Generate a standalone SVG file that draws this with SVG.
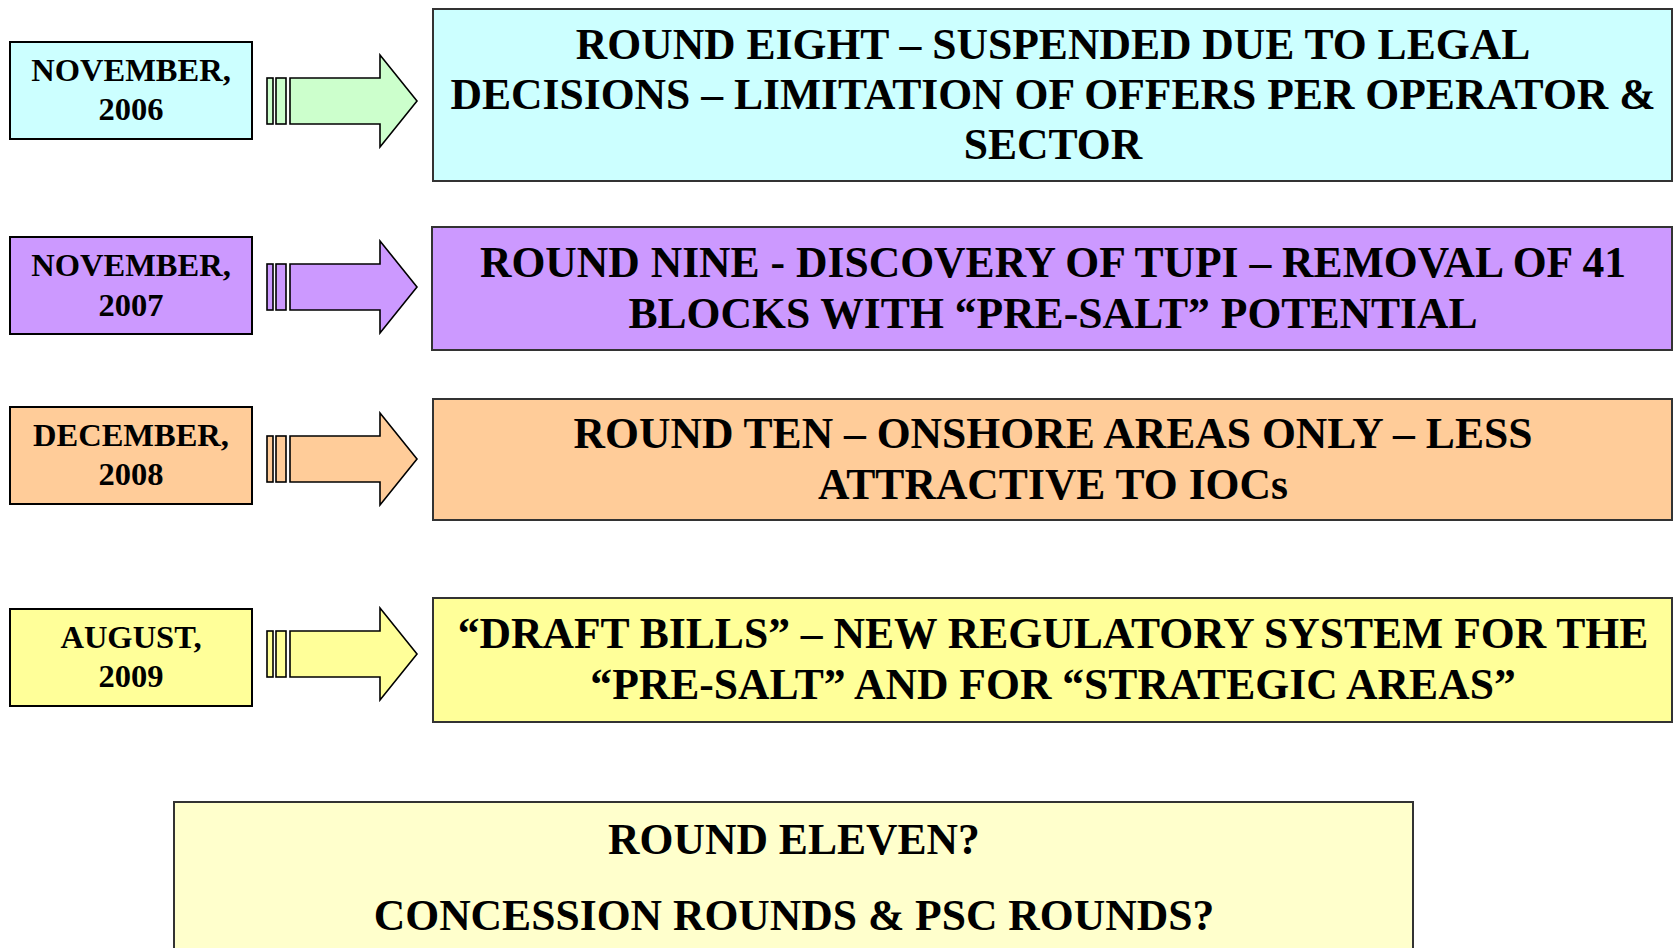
<svg xmlns="http://www.w3.org/2000/svg" width="1675" height="948" viewBox="0 0 1675 948">
<style>
.date{stroke:#000;stroke-width:2}
.big{stroke:#333;stroke-width:2}
.arr{stroke:#000;stroke-width:1.6;stroke-linejoin:miter}
text{font-family:"Liberation Serif","Times New Roman",serif;font-weight:bold;fill:#000;text-anchor:middle}
.dt{font-size:32.5px}
.bt{font-size:43.6px}
.cyan{fill:#CCFFFF}.green{fill:#CCFFCC}.purple{fill:#CC99FF}.peach{fill:#FFCC99}.yellow{fill:#FFFF99}.lyellow{fill:#FFFFCC}
</style>
<rect width="1675" height="948" fill="#fff"/>
<g id="date2006"><rect class="date cyan" x="10" y="42" width="242" height="97"/><text class="dt" x="131" y="81">NOVEMBER,</text><text class="dt" x="131" y="120">2006</text></g>
<g id="round8"><rect class="big cyan" x="433" y="9" width="1239" height="172"/><text class="bt" x="1053" y="59">ROUND EIGHT – SUSPENDED DUE TO LEGAL</text><text class="bt" x="1053" y="109">DECISIONS – LIMITATION OF OFFERS PER OPERATOR &amp;</text><text class="bt" x="1053" y="159">SECTOR</text></g>
<g id="date2007"><rect class="date purple" x="10" y="237" width="242" height="97"/><text class="dt" x="131" y="276">NOVEMBER,</text><text class="dt" x="131" y="316">2007</text></g>
<g id="round9"><rect class="big purple" x="432" y="227" width="1240" height="123"/><text class="bt" x="1053" y="277">ROUND NINE - DISCOVERY OF TUPI – REMOVAL OF 41</text><text class="bt" x="1053" y="328">BLOCKS WITH “PRE-SALT” POTENTIAL</text></g>
<g id="date2008"><rect class="date peach" x="10" y="407" width="242" height="97"/><text class="dt" x="131" y="446">DECEMBER,</text><text class="dt" x="131" y="485">2008</text></g>
<g id="round10"><rect class="big peach" x="433" y="399" width="1239" height="121"/><text class="bt" x="1053" y="448">ROUND TEN – ONSHORE AREAS ONLY – LESS</text><text class="bt" x="1053" y="499">ATTRACTIVE TO IOCs</text></g>
<g id="date2009"><rect class="date yellow" x="10" y="609" width="242" height="97"/><text class="dt" x="131" y="648">AUGUST,</text><text class="dt" x="131" y="687">2009</text></g>
<g id="drafts"><rect class="big yellow" x="433" y="598" width="1239" height="124"/><text class="bt" x="1053" y="648">“DRAFT BILLS” – NEW REGULATORY SYSTEM FOR THE</text><text class="bt" x="1053" y="699">“PRE-SALT” AND FOR “STRATEGIC AREAS”</text></g>
<g id="round11"><rect class="big lyellow" x="174" y="802" width="1239" height="160"/><text class="bt" x="794" y="854">ROUND ELEVEN?</text><text class="bt" x="794" y="930">CONCESSION ROUNDS &amp; PSC ROUNDS?</text></g>
<g id="connectors">
<g transform="translate(0,101)"><rect class="arr green" x="267" y="-23" width="6" height="46"/><rect class="arr green" x="276" y="-23" width="10" height="46"/><path class="arr green" d="M290,-23H380V-46L417,0L380,46V23H290Z"/></g>
<g transform="translate(0,287)"><rect class="arr purple" x="267" y="-23" width="6" height="46"/><rect class="arr purple" x="276" y="-23" width="10" height="46"/><path class="arr purple" d="M290,-23H380V-46L417,0L380,46V23H290Z"/></g>
<g transform="translate(0,459)"><rect class="arr peach" x="267" y="-23" width="6" height="46"/><rect class="arr peach" x="276" y="-23" width="10" height="46"/><path class="arr peach" d="M290,-23H380V-46L417,0L380,46V23H290Z"/></g>
<g transform="translate(0,654)"><rect class="arr yellow" x="267" y="-23" width="6" height="46"/><rect class="arr yellow" x="276" y="-23" width="10" height="46"/><path class="arr yellow" d="M290,-23H380V-46L417,0L380,46V23H290Z"/></g>
</g>
</svg>
